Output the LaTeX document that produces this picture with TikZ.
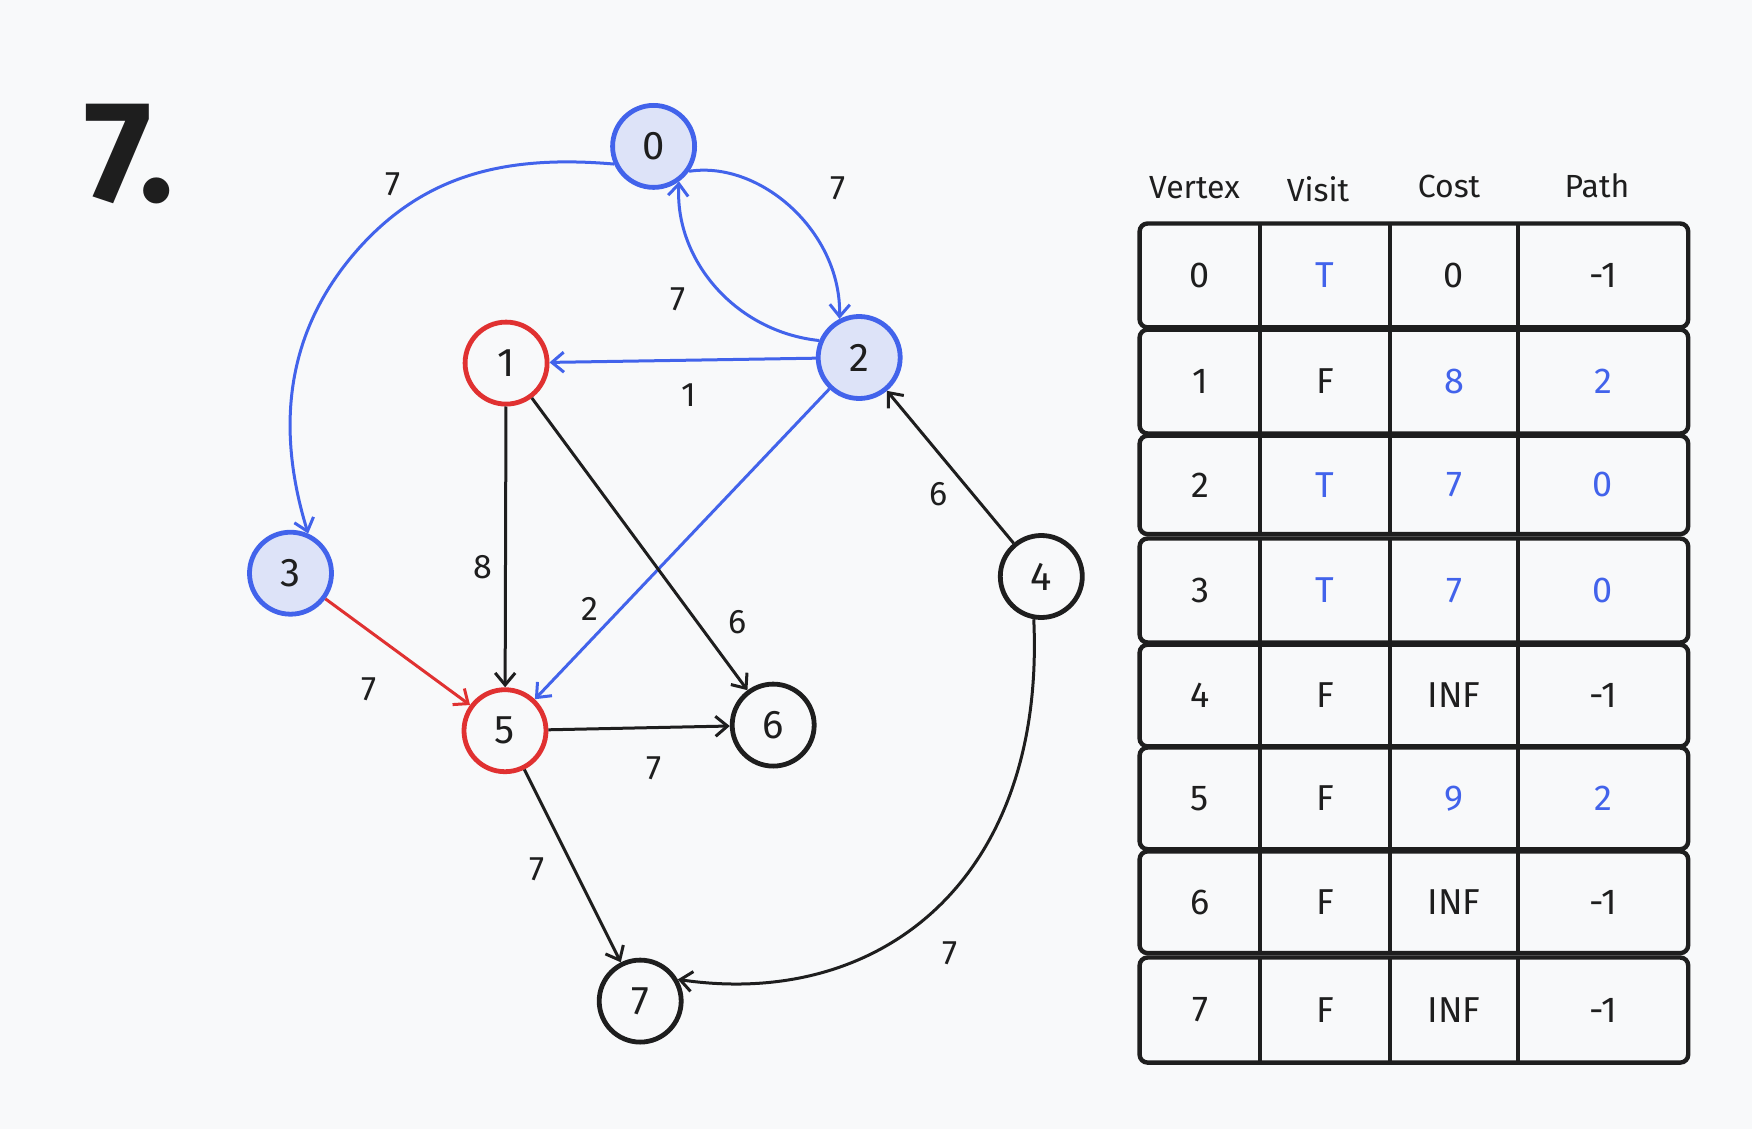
\documentclass[tikz,border=0pt]{standalone}
\usepackage{fontspec}
\setmainfont{Fira Sans}
\usetikzlibrary{arrows.meta}
\definecolor{bg}{HTML}{F8F9FA}
\definecolor{eblue}{HTML}{4263EB}
\definecolor{ered}{HTML}{E03131}
\definecolor{eblack}{HTML}{1E1E1E}
\definecolor{efill}{HTML}{DDE3F8}
\begin{document}
\begin{tikzpicture}[x=0.5pt,y=-0.5pt,
  vert/.style={circle,minimum size=41pt,inner sep=0pt,line width=2.4pt,text=eblack,font=\fontsize{20}{24}\selectfont},
  vblue/.style={vert,draw=eblue,fill=efill},
  vred/.style={vert,draw=ered,fill=bg},
  vblack/.style={vert,draw=eblack,fill=bg},
  edge/.style={line width=1.5pt,-{Straight Barb[length=6pt,width=10pt]}},
  wlab/.style={font=\fontsize{17}{20}\selectfont,text=eblack,inner sep=0pt},
  head/.style={font=\fontsize{16}{20}\selectfont,text=eblack,inner sep=0pt},
  cell/.style={font=\fontsize{18}{22}\selectfont,inner sep=0pt},
  rowbox/.style={draw=eblack,line width=2.2pt,rounded corners=4pt},
  divider/.style={draw=eblack,line width=2pt}
]
\fill[bg] (0,0) rectangle (1752,1129);
\useasboundingbox (0,0) rectangle (1752,1129);

% title
\node[font=\fontsize{72}{80}\selectfont\bfseries,text=eblack,inner sep=0pt] (title) at (129,154) {7.};

% vertices
\node[vblue]  (n0) at (653.6,146.4) {0};
\node[vred]   (n1) at (506.1,363.1) {1};
\node[vblue]  (n2) at (859.2,357.5) {2};
\node[vblue]  (n3) at (290.5,573.2) {3};
\node[vblack] (n4) at (1041.3,576.5) {4};
\node[vred]   (n5) at (505.0,730.7) {5};
\node[vblack] (n6) at (773.2,725.1) {6};
\node[vblack] (n7) at (640.2,1001.1) {7};

% edges
\coordinate (m03) at (360,247);
\draw[edge,eblue] (n0.204) .. controls (509,155) and (427,173) .. (m03)
                            .. controls (286,329) and (275,426) .. (n3.66);
\draw[edge,eblue] (n0.-35) .. controls +(71,-11) and +(2,-87) .. (n2.117);
\draw[edge,eblue] (n2.157) .. controls +(-85,-9) and +(-5,77) .. (n0.-54);
\draw[edge,eblue] (n2) -- (n1);
\draw[edge,eblue] (n2) -- (n5);
\draw[edge,eblack] (n4) -- (n2);
\draw[edge,eblack] (n1) -- (n5);
\draw[edge,eblack] (n1) -- (n6);
\draw[edge,ered] (n3) -- (n5);
\draw[edge,eblack] (n5) -- (n6);
\draw[edge,eblack] (n5) -- (n7);
\draw[edge,eblack] (n4.-100) .. controls +(12,259) and +(204,30) .. (n7.30);

% edge labels
\node[wlab] (l03) at (393,184) {7};
\node[wlab] (l02) at (838,188) {7};
\node[wlab] (l20) at (678,299) {7};
\node[wlab] (l21) at (689,395.5) {1};
\node[wlab] (l25) at (590,609) {2};
\node[wlab] (l42) at (938.5,494) {6};
\node[wlab] (l15) at (482.7,567.6) {8};
\node[wlab] (l16) at (737.4,622.3) {6};
\node[wlab] (l35) at (368.7,689.4) {7};
\node[wlab] (l56) at (653.6,768.7) {7};
\node[wlab] (l57) at (537.4,869.3) {7};
\node[wlab] (l47) at (949.7,953) {7};

% table headers
\node[head] (hV) at (1194.5,188) {Vertex};
\node[head] (hI) at (1318,189) {Visit};
\node[head] (hC) at (1449,186) {Cost};
\node[head] (hP) at (1597,186) {Path};

% table rows
\foreach \i/\rt/\rb/\vis/\viscol/\cost/\costcol/\pa/\pacol in {
  0/223.5/327.4/T/eblue/0/eblack/-1/eblack,
  1/329.6/433.5/F/eblack/8/eblue/2/eblue,
  2/435.7/534.1/T/eblue/7/eblue/0/eblue,
  3/538.5/642.5/T/eblue/7/eblue/0/eblue,
  4/644.7/746.4/F/eblack/INF/eblack/-1/eblack,
  5/747.5/849.2/F/eblack/9/eblue/2/eblue,
  6/851.4/953.1/F/eblack/INF/eblack/-1/eblack,
  7/957.5/1062.6/F/eblack/INF/eblack/-1/eblack}{
  \draw[rowbox] (1139.6,\rt) rectangle (1688.2,\rb);
  \draw[divider] (1260.3,\rt) -- (1260.3,\rb);
  \draw[divider] (1389.9,\rt) -- (1389.9,\rb);
  \draw[divider] (1518.4,\rt) -- (1518.4,\rb);
  \node[cell,text=eblack] (v\i) at (1200,{(\rt+\rb)/2}) {\i};
  \node[cell,text=\viscol] (s\i) at (1325,{(\rt+\rb)/2}) {\vis};
  \node[cell,text=\costcol] (c\i) at (1454,{(\rt+\rb)/2}) {\cost};
  \node[cell,text=\pacol] (p\i) at (1603,{(\rt+\rb)/2}) {\pa};
}
\end{tikzpicture}
\end{document}
